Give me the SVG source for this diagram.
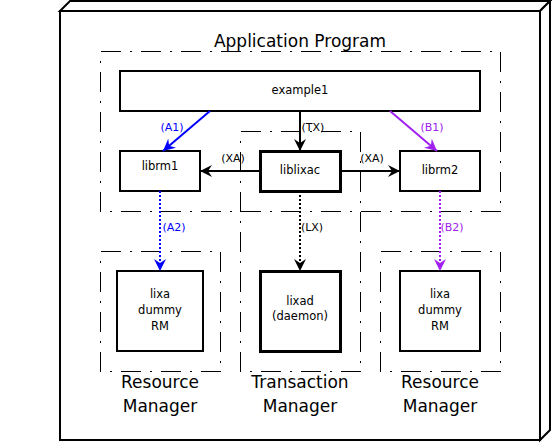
<svg xmlns="http://www.w3.org/2000/svg" width="552" height="444" viewBox="0 0 552 444">
<style>
  .frame { fill: #ffffff; stroke: #000000; stroke-width: 2; stroke-linejoin: miter; }
  .zone { fill: none; stroke: #000000; stroke-width: 1; stroke-dasharray: 20,9,2,9; shape-rendering: crispEdges; }
  .node { fill: #ffffff; stroke: #000000; stroke-width: 2; }
  .thick { stroke-width: 3; }
  .nt { font-family: "DejaVu Sans", "Liberation Sans", sans-serif; font-size: 11.5px; fill: #000000; text-anchor: middle; }
  .big { font-family: "DejaVu Sans", "Liberation Sans", sans-serif; font-size: 17px; fill: #000000; text-anchor: middle; }
  .lbl { font-family: "DejaVu Sans", "Liberation Sans", sans-serif; font-size: 11px; text-anchor: middle; }
  .conn { fill: none; stroke-width: 2; }
  .dot { stroke-dasharray: 2,2; }
  .k { stroke: #000000; }
  .b { stroke: #0000ff; }
  .p { stroke: #a020f0; }
</style>
<defs>
  <marker id="ak" viewBox="-12 -6 12 12" refX="0" refY="0" markerWidth="12" markerHeight="12" markerUnits="userSpaceOnUse" orient="auto">
    <path d="M0,0 L-12,-6 L-8,0 L-12,6 Z" fill="#000000"/>
  </marker>
  <marker id="ab" viewBox="-12 -6 12 12" refX="0" refY="0" markerWidth="12" markerHeight="12" markerUnits="userSpaceOnUse" orient="auto">
    <path d="M0,0 L-12,-6 L-8,0 L-12,6 Z" fill="#0000ff"/>
  </marker>
  <marker id="ap" viewBox="-12 -6 12 12" refX="0" refY="0" markerWidth="12" markerHeight="12" markerUnits="userSpaceOnUse" orient="auto">
    <path d="M0,0 L-12,-6 L-8,0 L-12,6 Z" fill="#a020f0"/>
  </marker>
</defs>

<g id="frame">
  <polygon class="frame" points="60,11 70,1 550,1 540,11"/>
  <polygon class="frame" points="540,11 550,1 550,430 540,440"/>
  <rect class="frame" x="60" y="11" width="480" height="429"/>
</g>

<g id="zones">
  <rect class="zone" x="100.5" y="51.5" width="400" height="160"/>
  <rect class="zone" x="240.5" y="131.5" width="120" height="240"/>
  <rect class="zone" x="100.5" y="251.5" width="120" height="120"/>
  <rect class="zone" x="380.5" y="251.5" width="120" height="120"/>
  <text class="big" x="300" y="47">Application Program</text>
  <text class="big" x="160" y="388">Resource</text>
  <text class="big" x="160" y="412">Manager</text>
  <text class="big" x="300" y="388">Transaction</text>
  <text class="big" x="300" y="412">Manager</text>
  <text class="big" x="440" y="388">Resource</text>
  <text class="big" x="440" y="412">Manager</text>
</g>

<g id="example1">
  <rect class="node" x="120" y="71" width="360" height="40"/>
  <text class="nt" x="300" y="94">example1</text>
</g>
<g id="librm1">
  <rect class="node" x="120" y="151" width="80" height="40"/>
  <text class="nt" x="160" y="170">librm1</text>
</g>
<g id="liblixac">
  <rect class="node thick" x="260.5" y="151.5" width="80" height="40"/>
  <text class="nt" x="300" y="174">liblixac</text>
</g>
<g id="librm2">
  <rect class="node" x="400" y="151" width="80" height="40"/>
  <text class="nt" x="440" y="174">librm2</text>
</g>
<g id="rm1">
  <rect class="node" x="117" y="271" width="86" height="80"/>
  <text class="nt" x="160" y="298">lixa</text>
  <text class="nt" x="160" y="314">dummy</text>
  <text class="nt" x="160" y="330">RM</text>
</g>
<g id="lixad">
  <rect class="node thick" x="260.5" y="271.5" width="80" height="80"/>
  <text class="nt" x="300" y="305">lixad</text>
  <text class="nt" x="300" y="320">(daemon)</text>
</g>
<g id="rm2">
  <rect class="node" x="400" y="271" width="80" height="80"/>
  <text class="nt" x="440" y="298">lixa</text>
  <text class="nt" x="440" y="314">dummy</text>
  <text class="nt" x="440" y="330">RM</text>
</g>

<g id="connectors">
  <path class="conn b" d="M210,111 L163,151" marker-end="url(#ab)"/>
  <path class="conn k" d="M300,111 L300,151" marker-end="url(#ak)"/>
  <path class="conn p" d="M390,111 L437,151" marker-end="url(#ap)"/>
  <path class="conn k" d="M260,171 L200,171" marker-end="url(#ak)"/>
  <path class="conn k" d="M340,171 L400,171" marker-end="url(#ak)"/>
  <path class="conn b dot" d="M160,191 L160,271" marker-end="url(#ab)"/>
  <path class="conn k dot" d="M300,191 L300,271" marker-end="url(#ak)"/>
  <path class="conn p dot" d="M440,191 L440,271" marker-end="url(#ap)"/>
  <text class="lbl" x="172" y="131" fill="#0000ff">(A1)</text>
  <text class="lbl" x="313" y="131" fill="#000000">(TX)</text>
  <text class="lbl" x="432" y="131" fill="#a020f0">(B1)</text>
  <text class="lbl" x="233" y="162" fill="#000000">(XA)</text>
  <text class="lbl" x="372" y="162" fill="#000000">(XA)</text>
  <text class="lbl" x="174" y="231" fill="#0000ff">(A2)</text>
  <text class="lbl" x="312" y="231" fill="#000000">(LX)</text>
  <text class="lbl" x="452" y="231" fill="#a020f0">(B2)</text>
</g>
</svg>
